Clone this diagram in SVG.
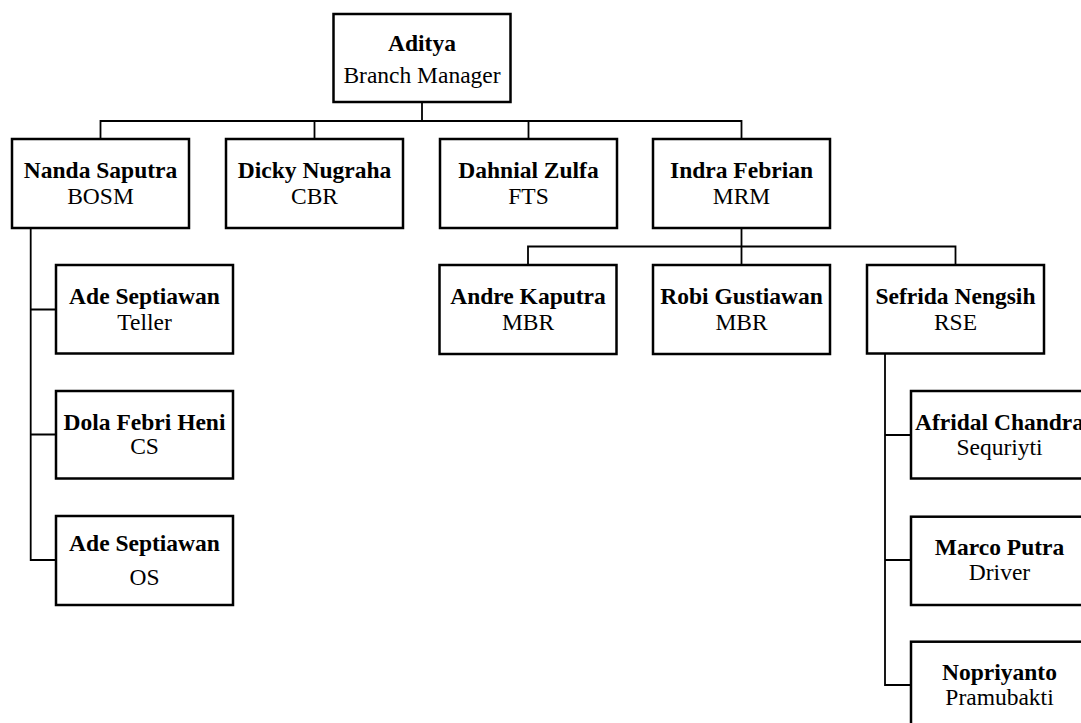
<svg xmlns="http://www.w3.org/2000/svg" width="1081" height="723" viewBox="0 0 1081 723">
<style>
.box{fill:#fff;stroke:#000;stroke-width:2.5}
.ln{fill:none;stroke:#000;stroke-width:1.8}
text{font-family:"Liberation Serif","Times New Roman",serif;font-size:23.5px;text-anchor:middle;fill:#000}
.n{font-weight:bold}
</style>
<rect width="1081" height="723" fill="#fff"/>
<g id="connectors">
<path class="ln" d="M422 102V121M100.5 139V121H741.5V139M314.5 121V139M528.5 121V139"/>
<path class="ln" d="M741.5 228V246.5M528 265V246.5H955.5V265M741.5 246.5V265"/>
<path class="ln" d="M30.7 228V560H56M30.7 309.5H56M30.7 434.5H56"/>
<path class="ln" d="M885 353.5V685H911M885 435H911M885 560H911"/>
</g>
<g id="aditya"><rect class="box" x="333.5" y="14" width="177" height="88"/><text class="n" x="422" y="50.5">Aditya</text><text x="422" y="83">Branch Manager</text></g>
<g id="nanda"><rect class="box" x="12" y="139" width="177" height="89"/><text class="n" x="100.5" y="178">Nanda Saputra</text><text x="100.5" y="204">BOSM</text></g>
<g id="dicky"><rect class="box" x="226" y="139" width="177" height="89"/><text class="n" x="314.5" y="178">Dicky Nugraha</text><text x="314.5" y="204">CBR</text></g>
<g id="dahnial"><rect class="box" x="440" y="139" width="177" height="89"/><text class="n" x="528.5" y="178">Dahnial Zulfa</text><text x="528.5" y="204">FTS</text></g>
<g id="indra"><rect class="box" x="653" y="139" width="177" height="89"/><text class="n" x="741.5" y="178">Indra Febrian</text><text x="741.5" y="204">MRM</text></g>
<g id="andre"><rect class="box" x="439.5" y="265" width="177" height="89"/><text class="n" x="528" y="304">Andre Kaputra</text><text x="528" y="329.5">MBR</text></g>
<g id="robi"><rect class="box" x="653" y="265" width="177" height="89"/><text class="n" x="741.5" y="304">Robi Gustiawan</text><text x="741.5" y="329.5">MBR</text></g>
<g id="sefrida"><rect class="box" x="867" y="265" width="177" height="88.5"/><text class="n" x="955.5" y="304">Sefrida Nengsih</text><text x="955.5" y="329.5">RSE</text></g>
<g id="ade1"><rect class="box" x="56" y="265" width="177" height="88.5"/><text class="n" x="144.5" y="304">Ade Septiawan</text><text x="144.5" y="329.5">Teller</text></g>
<g id="dola"><rect class="box" x="56" y="391" width="177" height="87.5"/><text class="n" x="144.5" y="429.5">Dola Febri Heni</text><text x="144.5" y="454">CS</text></g>
<g id="ade2"><rect class="box" x="56" y="516" width="177" height="89"/><text class="n" x="144.5" y="551">Ade Septiawan</text><text x="144.5" y="585">OS</text></g>
<g id="afridal"><rect class="box" x="911" y="391" width="177" height="87.5"/><text class="n" x="999.5" y="429.5">Afridal Chandra</text><text x="999.5" y="455">Sequriyti</text></g>
<g id="marco"><rect class="box" x="911" y="516.7" width="177" height="88.3"/><text class="n" x="999.5" y="555">Marco Putra</text><text x="999.5" y="579.5">Driver</text></g>
<g id="nopriyanto"><rect class="box" x="911" y="641.7" width="177" height="90"/><text class="n" x="999.5" y="680">Nopriyanto</text><text x="999.5" y="705">Pramubakti</text></g>
</svg>
